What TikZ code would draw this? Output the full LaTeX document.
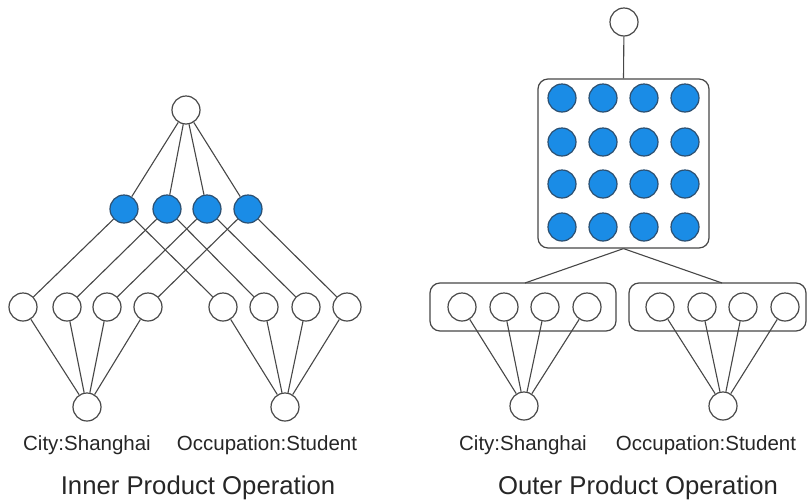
\documentclass[tikz,border=0pt]{standalone}
\usepackage{fontspec}
\setmainfont{Liberation Sans}
\definecolor{edgegray}{HTML}{474747}
\definecolor{unitblue}{HTML}{1A8CE6}
\definecolor{unitrim}{HTML}{2C4F70}
\begin{document}
\begin{tikzpicture}[x=1pt,y=-1pt,
  unit/.style={circle,draw=edgegray,line width=1.2pt,fill=white,minimum size=28pt,inner sep=0pt},
  hot/.style={circle,draw=unitrim,line width=1.2pt,fill=unitblue,minimum size=28pt,inner sep=0pt},
  link/.style={draw=edgegray,line width=1.1pt},
  frame/.style={draw=edgegray,line width=1.2pt,rounded corners=10pt,fill=white},
  label/.style={font=\fontsize{20.5}{24}\selectfont,text=black!85},
  heading/.style={font=\fontsize{25.7}{30}\selectfont,text=black!85}]
\useasboundingbox (0,0) rectangle (807,504);

% ---------- inner product ----------
\node[unit] (itop) at (186,110) {};
\foreach \i/\x in {1/124,2/167,3/207,4/248}
  \node[hot] (ib\i) at (\x,209) {};
\foreach \i/\x in {1/23,2/67,3/107,4/148}
  \node[unit] (ic\i) at (\x,307) {};
\foreach \i/\x in {1/223,2/264,3/306,4/347}
  \node[unit] (io\i) at (\x,307) {};
\node[unit] (icity) at (87,407) {};
\node[unit] (iocc) at (285,407) {};
\foreach \i in {1,...,4} {
  \draw[link] (itop) -- (ib\i);
  \draw[link] (ib\i) -- (ic\i);
  \draw[link] (ib\i) -- (io\i);
  \draw[link] (icity) -- (ic\i);
  \draw[link] (iocc) -- (io\i);
}
\node[label] (icitylab) at (87,445) {City:Shanghai};
\node[label] (iocclab) at (267,445) {Occupation:Student};
\node[heading] (ititle) at (198,488) {Inner Product Operation};

% ---------- outer product ----------
\node[unit] (otop) at (624,22) {};
\node[frame,minimum width=171pt,minimum height=169pt,inner sep=0pt] (grid) at (623.5,163.5) {};
\foreach \r/\y in {1/98,2/142,3/184,4/227}
  \foreach \c/\x in {1/562,2/603,3/644,4/685}
    \node[hot] (og\r\c) at (\x,\y) {};
\draw[link] (otop) -- (grid.north);

\node[frame,minimum width=186pt,minimum height=48pt,inner sep=0pt] (cbox) at (523,307) {};
\node[frame,minimum width=177pt,minimum height=48pt,inner sep=0pt] (obox) at (717.5,307) {};
\coordinate (cboxtop) at (525,283);
\coordinate (oboxtop) at (722,283);
\draw[link] (grid.south) -- (cboxtop);
\draw[link] (grid.south) -- (oboxtop);

\foreach \i/\x in {1/462,2/504,3/545,4/587}
  \node[unit] (oc\i) at (\x,307) {};
\foreach \i/\x in {1/660,2/702,3/743,4/785}
  \node[unit] (oo\i) at (\x,307) {};
\node[unit] (ocity) at (524,406) {};
\node[unit] (oocc) at (723,406) {};
\foreach \i in {1,...,4} {
  \draw[link] (ocity) -- (oc\i);
  \draw[link] (oocc) -- (oo\i);
}
\node[label] (ocitylab) at (523,445) {City:Shanghai};
\node[label] (oocclab) at (706,445) {Occupation:Student};
\node[heading] (otitle) at (638,488) {Outer Product Operation};
\end{tikzpicture}
\end{document}
